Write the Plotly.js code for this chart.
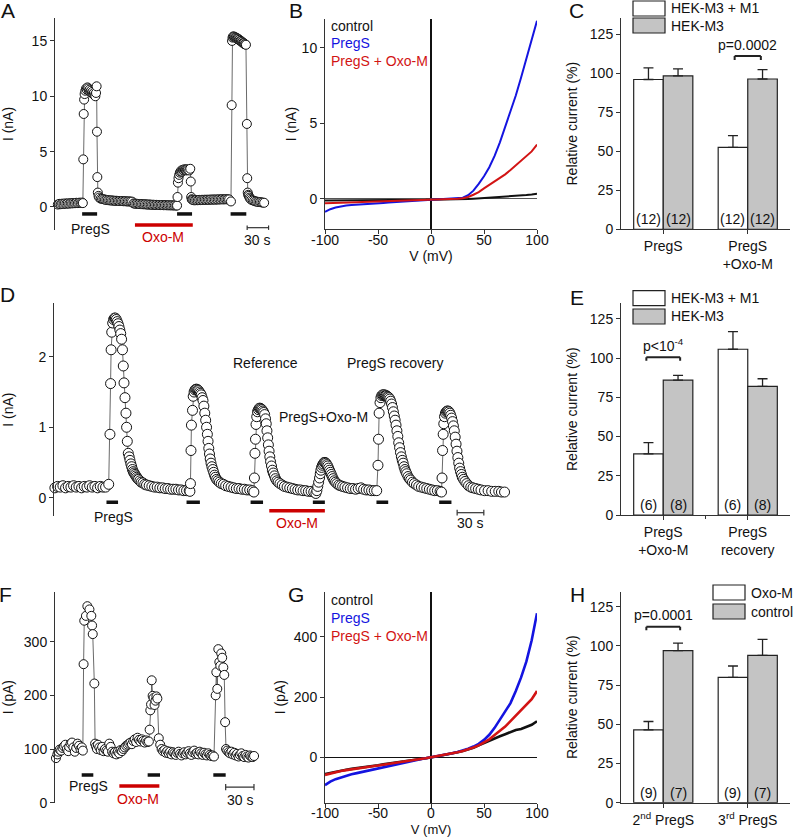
<!DOCTYPE html>
<html><head><meta charset="utf-8">
<script src="https://cdn.plot.ly/plotly-3.0.1.min.js"></script>
<style>html,body{margin:0;padding:0;background:#fff;}#g{width:793px;height:837px;}</style>
</head><body><div id="g"></div>
<script>
// ---------------- DATA ----------------
// Panel A: time course (s, nA)
const A_trace = [[4,0.22],[6,0.28],[8,0.25],[10,0.3],[12,0.27],[14,0.32],[16,0.29],[18,0.33],[20,0.3],[22,0.35],[24,0.32],[26,0.36],[28,0.34],[30,0.38],[32,0.35],[34,0.39],[36,0.37],[38,0.4],
[39,0.35],[39.6,4.3],[40.2,8.4],[40.8,9.7],[41.5,10.2],[42.5,10.5],[43.5,10.7],[44.5,10.6],[45.5,10.8],[46.5,10.7],[47.5,10.5],[48.5,10.6],[49.5,10.4],[50.5,10.5],[51.5,10.3],[52.5,10.4],[53.5,10.2],[54.5,10.3],[55.5,10.1],[56.5,10.0],[57.5,10.3],[58.3,10.9],[58.8,6.8],[59.3,2.7],[60,1.3],[61,1.0],[62,0.85],
[64,0.75],[66,0.72],[68,0.7],[70,0.66],[72,0.64],[74,0.62],[76,0.6],[78,0.6],[80,0.58],[82,0.57],[84,0.56],[86,0.56],[88,0.55],[90,0.54],[92,0.54],[94,0.53],[96,0.52],[98,0.52],[100,0.51],[102,0.5],[104,0.5],[106,0.49],[108,0.48],
[110,0.32],[112,0.3],[114,0.29],[116,0.28],[118,0.27],[120,0.26],[122,0.25],[124,0.25],[126,0.24],[128,0.23],[130,0.22],[132,0.22],[134,0.21],[136,0.2],[138,0.2],[140,0.19],[142,0.19],[144,0.18],[146,0.18],[148,0.17],[150,0.17],[152,0.16],[154,0.16],[156,0.16],[158,0.15],[160,0.15],[162,0.15],[164,0.14],[166,0.14],[168,0.14],[170,0.13],
[171,0.13],[171.6,0.9],[172.2,2.2],[173,2.6],[174,2.9],[175,3.1],[176,3.2],[177,3.3],[178,3.2],[179,3.35],[180,3.3],[181,3.4],[182,3.35],[183,3.4],[184,3.3],[185,3.4],[186,3.35],[188,3.3],[189.5,3.45],[190.2,2.3],[190.8,0.9],[191.5,0.7],[192.5,0.65],
[194,0.62],[196,0.6],[198,0.63],[200,0.61],[202,0.64],[204,0.62],[206,0.65],[208,0.63],[210,0.66],[212,0.64],[214,0.66],[216,0.65],[218,0.67],[220,0.66],[222,0.68],[224,0.66],[226,0.68],[228,0.67],[230,0.69],[232,0.68],[234,0.7],[236,0.68],[238,0.7],[240,0.69],[242,0.7],[244,0.68],
[246.5,0.5],[247.5,9.2],[248,15.0],[248.7,15.3],[249.5,15.4],[250.5,15.4],[251.5,15.35],[252.5,15.3],[253.5,15.3],[254.5,15.25],[255.5,15.2],[256.5,15.2],[257.5,15.1],[258.5,15.1],[259.5,15.0],[260.5,15.0],[261.5,14.9],[262.5,14.9],[263.5,14.8],[264.5,14.8],[265.5,14.7],[266.5,14.7],[267.5,14.65],[268.8,7.5],[269.3,2.6],[270,1.3],[270.7,1.1],
[271.5,1.0],[272.5,0.85],[273.5,0.75],[275,0.65],[277,0.6],[279,0.55],[281,0.5],[283,0.48],[285,0.45],[287,0.44],[289,0.42],[291,0.4],[293,0.38]];
const A_pregsApps = [[38,59],[171,192],[246,268]];
const A_oxoApps = [[112,193]];

// Panel B: I-V (mV, nA)
const B_V = [-100,-95,-90,-85,-80,-75,-70,-65,-60,-55,-50,-45,-40,-35,-30,-25,-20,-15,-10,-5,0,5,10,15,20,25,30,35,40,45,50,55,60,65,70,75,80,85,90,95,100];
const B_control = [-0.1,-0.1,-0.1,-0.1,-0.09,-0.09,-0.09,-0.09,-0.08,-0.08,-0.08,-0.08,-0.07,-0.07,-0.07,-0.07,-0.06,-0.06,-0.06,-0.06,-0.05,-0.05,-0.04,-0.04,-0.03,-0.02,-0.01,0,0.02,0.04,0.06,0.08,0.1,0.12,0.14,0.17,0.2,0.23,0.26,0.3,0.35];
const B_pregs = [-0.85,-0.68,-0.57,-0.49,-0.44,-0.4,-0.37,-0.34,-0.32,-0.3,-0.28,-0.26,-0.24,-0.22,-0.2,-0.18,-0.16,-0.14,-0.12,-0.1,-0.08,-0.06,-0.04,-0.02,0,0.03,0.08,0.25,0.55,1.0,1.5,2.1,2.85,3.75,4.75,5.75,6.85,8.05,9.3,10.5,11.8];
const B_pregsOxo = [-0.28,-0.26,-0.25,-0.24,-0.23,-0.22,-0.21,-0.2,-0.19,-0.18,-0.17,-0.16,-0.15,-0.14,-0.13,-0.12,-0.11,-0.1,-0.09,-0.08,-0.07,-0.05,-0.04,-0.02,0,0.02,0.05,0.13,0.28,0.45,0.7,0.92,1.15,1.38,1.63,1.92,2.22,2.5,2.82,3.15,3.6];
const V_ticks = [-100,-50,0,50,100];
const V_tickText = ['-100','-50','0','50','100'];

// Panel C: bars (%)
const C_cats = ['PregS','PregS<br>+Oxo-M'];
const C_m1 = [96, 52.5], C_m1Err = [7.5, 7.5], C_m1N = [12, 12];
const C_m3 = [98.3, 96.3], C_m3Err = [4.5, 6], C_m3N = [12, 12];

// Panel D: time course (s, nA)
const D_trace = [[1,0.14],[4,0.16],[7,0.15],[10,0.17],[13,0.14],[16,0.16],[19,0.15],[22,0.17],[25,0.15],[28,0.16],[31,0.14],[34,0.16],[37,0.15],[40,0.17],[43,0.15],[46,0.16],[49,0.14],[52,0.16],[55,0.15],[58,0.15],
[61.5,0.19],[62.9,0.9],[63.6,1.62],[64.2,2.1],[64.9,2.35],[66,2.48],[67,2.53],[68,2.55],[69,2.55],[70,2.53],[71,2.5],[72,2.47],[73,2.43],[74,2.38],[75,2.33],[76,2.25],[77,2.1],[77.9,1.87],[78.7,1.63],[79.8,1.42],[80.9,1.2],[81.6,1.0],[82.4,0.8],[83.5,0.63],[84.5,0.58],[85.4,0.53],[86.4,0.48],[87.3,0.44],[88.2,0.4],[89.1,0.37],[90,0.35],[91,0.33],[92,0.31],[93,0.29],[94,0.27],[95,0.26],[96.5,0.24],[98,0.22],[100,0.21],[102,0.19],[104,0.18],[107,0.17],[110,0.16],[113,0.15],[116,0.15],[119,0.14],[122,0.14],[125,0.13],[128,0.13],[131,0.12],[134,0.12],[137,0.12],[140,0.11],[143,0.11],[146,0.1],[149,0.1],[152,0.1],
[152.8,0.09],[153.4,0.2],[154,0.67],[154.5,1.03],[155.7,1.24],[156.5,1.44],[157.5,1.5],[158.5,1.53],[159.5,1.54],[160.5,1.54],[161.5,1.53],[162.5,1.52],[163.5,1.5],[164.5,1.48],[165.5,1.46],[166.5,1.42],[167.5,1.38],[168.5,1.3],[169.5,1.2],[170.5,1.1],[171.5,1.0],[172.4,0.9],[173.2,0.8],[174,0.7],[174.8,0.62],[175.6,0.55],[176.5,0.49],[177.5,0.44],[178.5,0.4],[179.5,0.36],[180.5,0.32],[181.5,0.29],[182.8,0.26],[184.3,0.24],[186,0.22],[188,0.2],[190.5,0.19],[193,0.17],[196,0.16],[199,0.15],[202,0.14],[205,0.13],[208,0.13],[211,0.12],[214,0.12],[217,0.11],[220,0.11],[223,0.1],
[224.7,0.08],[225.3,0.28],[225.9,0.63],[226.5,0.83],[227.1,1.04],[227.9,1.15],[228.8,1.22],[229.8,1.25],[230.8,1.27],[231.8,1.27],[232.8,1.26],[233.8,1.25],[234.8,1.23],[235.8,1.21],[236.8,1.18],[237.8,1.12],[238.6,1.05],[239.4,0.95],[240.2,0.85],[241,0.75],[241.8,0.66],[242.6,0.58],[243.5,0.51],[244.5,0.45],[245.5,0.39],[246.5,0.35],[247.8,0.31],[249,0.27],[250.5,0.24],[252,0.22],[254,0.2],[256.5,0.18],[259,0.16],[262,0.15],[265,0.14],[268,0.13],[271,0.12],[274,0.11],[277,0.11],[280,0.1],[283,0.1],[286,0.09],[289,0.09],[292,0.08],
[294.4,0.06],[295.5,0.1],[296.5,0.16],[297.5,0.22],[298.5,0.28],[299.3,0.34],[300,0.39],[300.8,0.43],[301.7,0.46],[302.7,0.48],[303.7,0.5],[304.7,0.5],[305.7,0.49],[306.7,0.47],[307.7,0.45],[308.7,0.42],[309.7,0.39],[310.7,0.36],[311.7,0.33],[312.7,0.3],[313.8,0.27],[315,0.24],[316.5,0.22],[318,0.2],[320,0.18],[322,0.17],[324.5,0.16],[327,0.15],[330,0.14],[333,0.13],[336,0.13],[339,0.12],[342,0.13],[345,0.14],[348,0.12],[351,0.11],[354,0.11],[357,0.1],[360,0.1],[362.8,0.1],
[364.2,0.46],[364.8,0.83],[365.5,1.2],[366.5,1.35],[367.5,1.42],[368.5,1.45],[369.5,1.46],[370.5,1.46],[371.5,1.46],[372.5,1.45],[373.5,1.45],[374.5,1.44],[375.5,1.43],[376.5,1.42],[377.5,1.4],[378.5,1.37],[379.5,1.33],[380.5,1.28],[381.5,1.22],[382.5,1.16],[383.5,1.1],[384.5,1.03],[385.5,0.95],[386.5,0.87],[387.5,0.78],[388.5,0.71],[389.5,0.64],[390.5,0.58],[391.5,0.53],[392.5,0.49],[393.5,0.44],[394.5,0.4],[395.5,0.37],[396.5,0.34],[398,0.3],[399.5,0.27],[401,0.25],[403,0.22],[405,0.2],[407.5,0.18],[410,0.16],[413,0.15],[416,0.14],[419,0.13],[422,0.12],[425,0.11],[428,0.1],[431,0.1],[434,0.09],
[435.6,0.08],[436.2,0.28],[436.8,0.67],[437.5,0.9],[438.2,1.05],[439,1.15],[440,1.2],[441,1.22],[442,1.23],[443,1.23],[444,1.22],[445,1.2],[446,1.17],[447,1.13],[448,1.08],[449,1.02],[450,0.95],[451,0.86],[452,0.76],[453,0.66],[454,0.57],[455,0.49],[456,0.42],[457,0.37],[458,0.33],[459,0.29],[460.5,0.26],[462,0.23],[464,0.2],[466,0.17],[468.5,0.15],[471,0.14],[474,0.13],[477,0.12],[480,0.11],[484,0.1],[488,0.1],[492,0.09],[496,0.09],[500,0.09],[503,0.08],[506.5,0.08]];
const D_pregsApps = [[59,72],[149,164],[221,235],[291,304.5],[362.5,375.7],[433,446.8]];
const D_oxoApps = [[242,304.5]];

// Panel E: bars (%)
const E_cats = ['PregS<br>+Oxo-M','PregS<br>recovery'];
const E_m1 = [39, 105.7], E_m1Err = [7.2, 11.2], E_m1N = [6, 6];
const E_m3 = [86, 82], E_m3Err = [3, 4.9], E_m3N = [8, 8];

// Panel F: time course (s, pA)
const F_trace = [[1,83],[2.5,90],[3.5,95],[5,99],[6.5,97],[8,102],[9.5,105],[11,108],[12.5,100],[14,96],[15,104],[16.5,110],[18,112],[19.5,103],[21,95],[22.5,102],[24,110],[25.5,106],[27,100],[28.5,103],[29.5,97],
[30.3,258],[31,339],[32.8,348],[34.3,366],[36.5,360],[38.5,348],[39.3,330],[40,314],[41.7,222],[42.5,110],
[43.5,105],[44.5,100],[45.5,108],[47,103],[48.5,98],[50,104],[51.5,96],[53,100],[54.5,97],[56,95],[57.5,110],[59,104],[60.5,95],[62,92],[63.5,94],[65,90],[66.5,95],[68,92],[69.5,98],
[71,96],[72.5,100],[74,103],[75.5,106],[77,108],[78.5,110],[80,112],[81.5,109],[83,115],[84.5,118],[86,113],[87.5,121],[89,117],[90.5,114],[92,118],[93.5,115],[95,112],[96.5,116],[98,113],[99.5,114],
[100.3,136],[101,172],[101.8,183],[102.5,228],[103.5,199],[104.5,195],[105.5,182],[106.5,190],[107.5,198],[108.5,194],[110,120],[111.5,108],[113,100],[114.5,96],
[116,98],[117.5,93],[119,96],[120.5,92],[122,95],[123.5,90],[125,94],[126.5,92],[128,89],[129.5,93],[131,95],[132.5,91],[134,88],[135.5,92],[137,94],[138.5,90],[140,93],[141.5,96],[143,92],[144.5,89],[146,94],[147.5,97],[149,91],[150.5,93],[152,90],[153.5,95],[155,92],[156.5,89],[158,93],[159.5,90],[161,88],[162.5,92],[164,89],[165.5,87],[167,88],[168.5,86],
[170.3,200],[171,243],[172,212],[173.1,286],[174.2,262],[175.2,255],[176.2,278],[177.2,270],[178.4,252],[179.4,238],[180.3,150],[181.3,100],
[182.5,97],[184,94],[185.5,92],[187,95],[188.5,90],[190,93],[191.5,88],[193,91],[194.5,86],[196,89],[197.5,92],[199,87],[200.5,85],[202,89],[203.5,86],[205,84],[206.5,88],[208,86],[209.5,85],[211,87]];
const F_pregsApps = [[28.3,40.6],[98.2,111.3],[167.8,180.9]];
const F_oxoApps = [[68.2,110.6]];

// Panel G: I-V (mV, pA)
const G_V = [-100,-95,-90,-85,-80,-75,-70,-65,-60,-55,-50,-45,-40,-35,-30,-25,-20,-15,-10,-5,0,5,10,15,20,25,30,35,40,45,50,55,60,65,70,75,80,85,90,95,100];
const G_control = [-55,-51,-47,-44,-41,-38,-36,-33,-31,-28,-26,-23,-21,-18,-15,-13,-10,-8,-5,-3,0,3,6,9,13,17,21,26,32,40,48,55,62,70,77,84,91,94,100,108,120];
const G_pregs = [-92,-80,-72,-66,-61,-56,-52,-48,-44,-40,-36,-33,-29,-25,-21,-17,-13,-9,-6,-3,0,3,7,10,14,18,23,29,36,45,58,75,98,125,150,180,220,265,318,388,478];
const G_pregsOxo = [-58,-53,-49,-45,-42,-39,-37,-34,-32,-29,-27,-24,-22,-19,-16,-13,-11,-8,-5,-3,0,3,6,9,13,17,21,26,33,40,50,60,74,88,102,120,138,155,172,193,220];

// Panel H: bars (%)
const H_cats = ['2<sup>nd</sup> PregS','3<sup>rd</sup> PregS'];
const H_oxo = [46.5, 80], H_oxoErr = [5.3, 7.2], H_oxoN = [9, 9];
const H_ctrl = [97, 94], H_ctrlErr = [4.8, 10.2], H_ctrlN = [7, 7];

// ---------------- LAYOUT HELPERS ----------------
const W = 793, H = 837;
const FONT = 'Arial, "Liberation Sans", sans-serif';
const dX = (a,b) => [a/W, b/W];
const dY = (t,b) => [1-b/H, 1-t/H];
const PX = x => x/W, PY = y => 1-y/H;
const BLUE = '#1414e0', RED = '#d21414', GRAYBAR = '#c4c4c4', INK = '#222';

const ax = (o) => Object.assign({showgrid:false, zeroline:false, showline:true, linecolor:'#333', linewidth:1,
  ticks:'outside', ticklen:4, tickwidth:1, tickcolor:'#333', tickfont:{size:14, color:'#111', family:FONT}, fixedrange:true}, o);
const ttl = (text, standoff, size) => ({text:text, font:{size:size||14, color:'#111', family:FONT}, standoff:standoff});

const traces = [];
const shapes = [];
const ann = [];

function timeCourse(data, xa, ya, msize){
  traces.push({x:data.map(d=>d[0]), y:data.map(d=>d[1]), xaxis:xa, yaxis:ya, type:'scatter', mode:'lines+markers',
    line:{color:'#444', width:0.8}, marker:{size:msize, color:'white', line:{color:'#111', width:1}}, hoverinfo:'skip', cliponaxis:false});
}
function appBars(list, xr, yr, yv, color, w){
  list.forEach(r => shapes.push({type:'line', xref:xr, yref:yr, x0:r[0], x1:r[1], y0:yv, y1:yv, line:{color:color, width:w}}));
}
function scaleBar(xr, yr, x0, len, yv, tick){
  shapes.push({type:'line', xref:xr, yref:yr, x0:x0, x1:x0+len, y0:yv, y1:yv, line:{color:'#333', width:1.2}});
  shapes.push({type:'line', xref:xr, yref:yr, x0:x0, x1:x0, y0:yv-tick, y1:yv+tick, line:{color:'#333', width:1.2}});
  shapes.push({type:'line', xref:xr, yref:yr, x0:x0+len, x1:x0+len, y0:yv-tick, y1:yv+tick, line:{color:'#333', width:1.2}});
}
function txt(text, x, y, opt){
  ann.push(Object.assign({text:text, xref:'paper', yref:'paper', x:PX(x), y:PY(y), xanchor:'center', yanchor:'middle',
    showarrow:false, font:{size:14, color:'#111', family:FONT}}, opt||{}));
}
function ivLines(V, series, colors, xa, ya, w){
  series.forEach((s,i)=>traces.push({x:V, y:s, xaxis:xa, yaxis:ya, type:'scatter', mode:'lines', line:{color:colors[i], width:w}, hoverinfo:'skip'}));
}
function bars(cats, m1, e1, n1, m2, e2, n2, xa, ya){
  const common = {type:'bar', xaxis:xa, yaxis:ya, hoverinfo:'skip'};
  traces.push(Object.assign({x:cats, y:m1, marker:{color:'white', line:{color:INK, width:1.2}},
    error_y:{type:'data', symmetric:false, array:e1, arrayminus:m1.map(()=>0), color:INK, thickness:1.3, width:5}}, common));
  traces.push(Object.assign({x:cats, y:m2, marker:{color:GRAYBAR, line:{color:INK, width:1.2}},
    error_y:{type:'data', symmetric:false, array:e2, arrayminus:m2.map(()=>0), color:INK, thickness:1.3, width:5}}, common));
  cats.forEach((c,i)=>{
    ann.push({text:'('+n1[i]+')', xref:xa, yref:ya, x:i-0.175, y:0, yanchor:'bottom', yshift:0, showarrow:false, font:{size:14,color:'#111',family:FONT}});
    ann.push({text:'('+n2[i]+')', xref:xa, yref:ya, x:i+0.175, y:0, yanchor:'bottom', yshift:0, showarrow:false, font:{size:14,color:'#111',family:FONT}});
  });
}
function bracket(xa, ya, c, half, yTop, drop, label, labelY){
  shapes.push({type:'line', xref:xa, yref:ya, x0:c-half, x1:c+half, y0:yTop, y1:yTop, line:{color:INK, width:2}});
  shapes.push({type:'line', xref:xa, yref:ya, x0:c-half, x1:c-half, y0:yTop, y1:yTop-drop, line:{color:INK, width:2}});
  shapes.push({type:'line', xref:xa, yref:ya, x0:c+half, x1:c+half, y0:yTop, y1:yTop-drop, line:{color:INK, width:2}});
  ann.push({text:label, xref:xa, yref:ya, x:c, y:labelY, showarrow:false, font:{size:14,color:'#111',family:FONT}});
}
function legendBox(x0, y0, fill, label){
  shapes.push({type:'rect', xref:'paper', yref:'paper', x0:PX(x0), x1:PX(x0+32), y0:PY(y0+15), y1:PY(y0), fillcolor:fill, line:{color:INK, width:1.2}});
  txt(label, x0+36, y0+7.5, {xanchor:'left'});
}

// ---------------- PANELS ----------------
// A
timeCourse(A_trace, 'x', 'y', 9);
appBars(A_pregsApps, 'x', 'y', -0.63, '#111', 3.5);
appBars(A_oxoApps, 'x', 'y', -1.63, '#cc0000', 3.5);
scaleBar('x', 'y', 269.2, 30, -1.87, 0.2);
txt('PregS', 90, 229); txt('Oxo-M', 163, 237, {font:{size:14,color:'#cc0000',family:FONT}}); txt('30 s', 257, 240);

// B
ivLines(B_V, [B_control, B_pregs, B_pregsOxo], ['#111', BLUE, RED], 'x2', 'y2', 2);
txt('control', 329, 26, {xanchor:'left'});
txt('PregS', 329, 43.5, {xanchor:'left', font:{size:14,color:BLUE,family:FONT}});
txt('PregS + Oxo-M', 329, 61, {xanchor:'left', font:{size:14,color:RED,family:FONT}});

// C
bars(C_cats, C_m1, C_m1Err, C_m1N, C_m3, C_m3Err, C_m3N, 'x3', 'y3');
bracket('x3', 'y3', 1, 0.155, 111, 2.5, 'p=0.0002', 118);
legendBox(633, 1, 'white', 'HEK-M3 + M1');
legendBox(633, 18, GRAYBAR, 'HEK-M3');

// D
timeCourse(D_trace, 'x4', 'y4', 10);
appBars(D_pregsApps, 'x4', 'y4', -0.065, '#111', 3.5);
appBars(D_oxoApps, 'x4', 'y4', -0.184, '#cc0000', 3.5);
scaleBar('x4', 'y4', 453.2, 30, -0.213, 0.04);
txt('PregS', 113, 517); txt('Oxo-M', 297, 523, {font:{size:14,color:'#cc0000',family:FONT}}); txt('30 s', 470, 523);
txt('Reference', 265, 362.7); txt('PregS recovery', 395, 362.7); txt('PregS+Oxo-M', 323, 417);

// E
bars(E_cats, E_m1, E_m1Err, E_m1N, E_m3, E_m3Err, E_m3N, 'x5', 'y5');
bracket('x5', 'y5', 0, 0.2, 100.6, 2.2, 'p&lt;10<sup>-4</sup>', 108.5);
shapes.push({type:'line', xref:'x5', yref:'paper', x0:0.5, x1:0.5, y0:PY(515), y1:PY(519), line:{color:'#333', width:1}});
legendBox(633, 290.7, 'white', 'HEK-M3 + M1');
legendBox(633, 309, GRAYBAR, 'HEK-M3');

// F
timeCourse(F_trace, 'x6', 'y6', 9);
appBars(F_pregsApps, 'x6', 'y6', 51.6, '#111', 3.5);
appBars(F_oxoApps, 'x6', 'y6', 31, '#cc0000', 3.5);
scaleBar('x6', 'y6', 180.9, 30, 29, 6);
txt('PregS', 88, 786); txt('Oxo-M', 138, 799, {font:{size:14,color:'#cc0000',family:FONT}}); txt('30 s', 240, 800);

// G
ivLines(G_V, [G_control, G_pregs, G_pregsOxo], ['#111', BLUE, RED], 'x7', 'y7', 2.6);
txt('control', 329, 600, {xanchor:'left'});
txt('PregS', 329, 617.5, {xanchor:'left', font:{size:14,color:BLUE,family:FONT}});
txt('PregS + Oxo-M', 329, 636, {xanchor:'left', font:{size:14,color:RED,family:FONT}});

// H
bars(H_cats, H_oxo, H_oxoErr, H_oxoN, H_ctrl, H_ctrlErr, H_ctrlN, 'x8', 'y8');
bracket('x8', 'y8', 0, 0.2, 112.2, 2.2, 'p=0.0001', 119.7);
legendBox(713, 585, 'white', 'Oxo-M');
legendBox(713, 604, GRAYBAR, 'control');

// Panel letters
[['A',7.5,11],['B',296,10],['C',576,11],['D',7.5,294.5],['E',577,297.5],['F',5,594.5],['G',296,594.5],['H',577,594.5]]
  .forEach(l => txt(l[0], l[1], l[2], {font:{size:21,color:'#111',family:FONT}}));

const layout = {
  width:W, height:H, margin:{l:0,r:0,t:0,b:0}, paper_bgcolor:'white', plot_bgcolor:'rgba(0,0,0,0)',
  showlegend:false, font:{family:FONT, size:14, color:'#111'},
  barmode:'group', bargap:0.3, bargroupgap:0,
  xaxis: ax({domain:dX(55,272), range:[0,304], visible:false, anchor:'y'}),
  yaxis: ax({domain:dY(18,230), range:[-2.08,17.07], anchor:'x', tickvals:[0,5,10,15], title:ttl('I (nA)',16)}),
  xaxis2: ax({domain:dX(325,537), range:[-100,100], anchor:'y2', tickvals:V_ticks, ticktext:V_tickText, ticklabelstandoff:-6, zeroline:true, zerolinecolor:'#111', zerolinewidth:1.2, title:ttl('V (mV)',0)}),
  yaxis2: ax({domain:dY(19,229), range:[-1.99,11.92], anchor:'x2', tickvals:[0,5,10], zeroline:true, zerolinecolor:'#555', zerolinewidth:1, title:ttl('I (nA)',1)}),
  xaxis3: ax({domain:dX(621,790), range:[-0.5,1.5], anchor:'y3', type:'category'}),
  yaxis3: ax({domain:dY(18,229.3), range:[0,135.4], anchor:'x3', tickvals:[0,25,50,75,100,125], title:ttl('Relative current (%)',8)}),
  xaxis4: ax({domain:dX(54,513), range:[0,516], visible:false, anchor:'y4'}),
  yaxis4: ax({domain:dY(303.3,516), range:[-0.26,2.76], anchor:'x4', tickvals:[0,1,2], title:ttl('I (nA)',24)}),
  xaxis5: ax({domain:dX(621,790), range:[-0.5,1.5], anchor:'y5', type:'category'}),
  yaxis5: ax({domain:dY(303.3,515), range:[0,135], anchor:'x5', tickvals:[0,25,50,75,100,125], title:ttl('Relative current (%)',8)}),
  xaxis6: ax({domain:dX(55,262), range:[0,219.4], visible:false, anchor:'y6'}),
  yaxis6: ax({domain:dY(591.7,802.7), range:[0,393], anchor:'x6', tickvals:[0,100,200,300], title:ttl('I (pA)',12)}),
  xaxis7: ax({domain:dX(325,537), range:[-100,100], anchor:'y7', tickvals:V_ticks, ticktext:V_tickText, ticklabelstandoff:-7, zeroline:true, zerolinecolor:'#111', zerolinewidth:1.2, title:ttl('V (mV)',7,13)}),
  yaxis7: ax({domain:dY(591.7,802.7), range:[-150,549], anchor:'x7', tickvals:[0,200,400], zeroline:true, zerolinecolor:'#111', zerolinewidth:1, title:ttl('I (pA)',4)}),
  xaxis8: ax({domain:dX(621,790), range:[-0.5,1.5], anchor:'y8', type:'category'}),
  yaxis8: ax({domain:dY(591.7,802.7), range:[0,134.6], anchor:'x8', tickvals:[0,25,50,75,100,125], title:ttl('Relative current (%)',8)}),
  shapes:shapes, annotations:ann
};
Plotly.newPlot('g', traces, layout, {staticPlot:true, displayModeBar:false});
</script></body></html>
